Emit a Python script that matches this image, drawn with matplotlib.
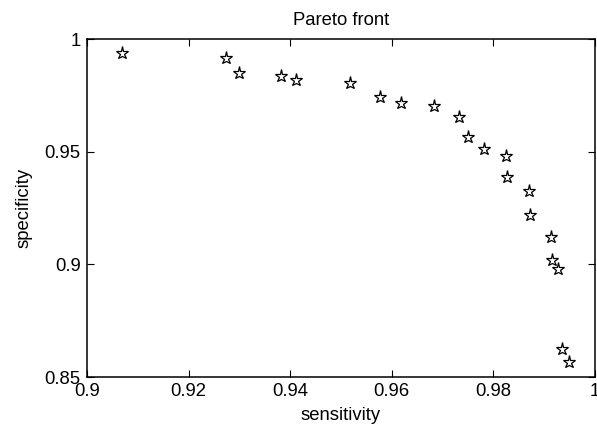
import numpy as np
import matplotlib
matplotlib.use("Agg")
import matplotlib.pyplot as plt

# pareto front points
sensitivity = [0.9069, 0.9274, 0.9299, 0.9381, 0.9411, 0.9518, 0.9577,
               0.9619, 0.9684, 0.9732, 0.9750, 0.9782, 0.9824, 0.9827,
               0.9870, 0.9873, 0.9913, 0.9916, 0.9928, 0.9936, 0.9949]
specificity = [0.9937, 0.9917, 0.9850, 0.9837, 0.9817, 0.9803, 0.9741,
               0.9716, 0.9703, 0.9655, 0.9564, 0.9510, 0.9482, 0.9389,
               0.9327, 0.9219, 0.9120, 0.9019, 0.8979, 0.8624, 0.8568]

xticks = [0.9, 0.92, 0.94, 0.96, 0.98, 1.0]
xtick_labels = ["0.9", "0.92", "0.94", "0.96", "0.98", "1"]
yticks = [0.85, 0.9, 0.95, 1.0]
ytick_labels = ["0.85", "0.9", "0.95", "1"]

plt.rcParams['font.family'] = ['Liberation Sans', 'DejaVu Sans']
fs = 13.3

fig = plt.figure(figsize=(5.97, 4.30), dpi=100)
ax = fig.add_axes([87 / 597, 1 - 377 / 430, (595 - 87) / 597, (377 - 39) / 430])

ax.plot(sensitivity, specificity, linestyle='none', marker='*',
        markersize=9.5, markerfacecolor='none', markeredgecolor='black',
        markeredgewidth=0.9)

ax.set_xlim(0.9, 1.0)
ax.set_ylim(0.85, 1.0)
ax.set_xticks(xticks)
ax.set_xticklabels(xtick_labels)
ax.set_yticks(yticks)
ax.set_yticklabels(ytick_labels)
ax.tick_params(direction='in', top=True, right=True, length=5, width=0.8,
               labelsize=fs, pad=4.5)
for s in ax.spines.values():
    s.set_linewidth(1.1)

ax.set_title("Pareto front", fontsize=fs, pad=10)
ax.set_xlabel("sensitivity", fontsize=fs, labelpad=5)
ax.set_ylabel("specificity", fontsize=fs, labelpad=9)

fig.savefig("out.png", dpi=100)
